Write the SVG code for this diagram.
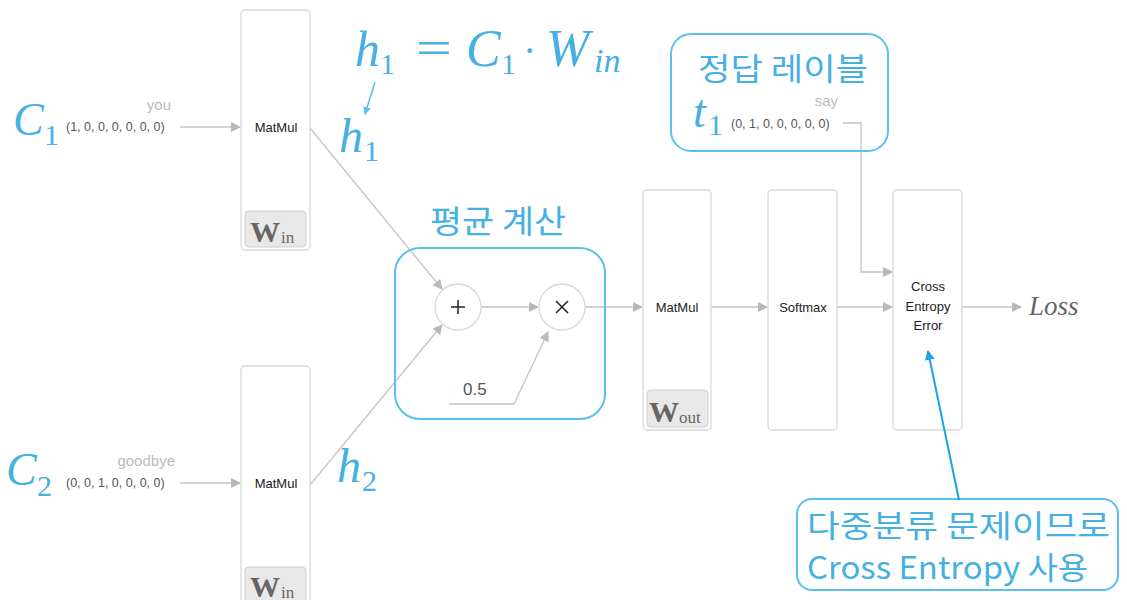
<svg xmlns="http://www.w3.org/2000/svg" width="1127" height="600" viewBox="0 0 1127 600">
<defs>
<style>
.box{fill:#fff;stroke:#d9d9d9;stroke-width:1.3}
.wbox{fill:#e8e8e8;stroke:#cfcfcf;stroke-width:1}
.lbl{font-family:"Liberation Sans",Arial,sans-serif;font-size:13px;fill:#222;text-anchor:middle}
.vec{font-family:"Liberation Sans",Arial,sans-serif;font-size:12.5px;fill:#555}
.word{font-family:"Liberation Sans",Arial,sans-serif;font-size:15px;fill:#bbb;text-anchor:end}
.math{font-family:"Liberation Serif","DejaVu Serif",serif;font-style:italic;fill:#45b0e2}
.sub{font-family:"Liberation Serif",serif;font-style:normal;fill:#45b0e2}
.kr{font-family:"Noto Sans CJK KR",sans-serif;fill:#45b0e2}
.w{font-family:"Liberation Serif",serif;font-weight:bold;fill:#666}
.wi{font-family:"Liberation Serif",serif;fill:#666}
.conn{fill:none;stroke:#c4c4c4;stroke-width:1.3}
.blue{fill:none;stroke:#5bc0ee;stroke-width:2}
</style>
<marker id="ah" markerWidth="10" markerHeight="10" refX="9" refY="5" orient="auto" markerUnits="userSpaceOnUse" viewBox="0 0 10 10">
<path d="M0,0 L10,5 L0,10 z" fill="#b8b8b8"/>
</marker>
<marker id="bh" markerWidth="10" markerHeight="12" refX="9" refY="5" orient="auto" markerUnits="userSpaceOnUse" viewBox="0 0 10 10">
<path d="M0,0 L10,5 L0,10 z" fill="#1aa3e6"/>
</marker>
<marker id="sh" markerWidth="8" markerHeight="8" refX="7" refY="4" orient="auto" markerUnits="userSpaceOnUse" viewBox="0 0 8 8">
<path d="M0,0 L8,4 L0,8 z" fill="#5bc0ee"/>
</marker>
</defs>

<g id="connectors">
<line class="conn" x1="180" y1="127" x2="240" y2="127" marker-end="url(#ah)"/>
<line class="conn" x1="180" y1="483" x2="240" y2="483" marker-end="url(#ah)"/>
<line class="conn" x1="310" y1="128" x2="442" y2="289" marker-end="url(#ah)"/>
<line class="conn" x1="310" y1="485" x2="442" y2="325" marker-end="url(#ah)"/>
<line class="conn" x1="481" y1="307" x2="538" y2="307" marker-end="url(#ah)"/>
<polyline class="conn" points="449,404 514,404 548,332" marker-end="url(#ah)"/>
<line class="conn" x1="585" y1="307" x2="642" y2="307" marker-end="url(#ah)"/>
<line class="conn" x1="711" y1="307" x2="767" y2="307" marker-end="url(#ah)"/>
<line class="conn" x1="837" y1="307" x2="892" y2="307" marker-end="url(#ah)"/>
<polyline class="conn" points="843,123 861,123 861,272 892,272" marker-end="url(#ah)"/>
<line class="conn" x1="962" y1="307" x2="1021" y2="307" marker-end="url(#ah)"/>
</g>

<g id="matmul1">
<rect class="box" x="241" y="10" width="69" height="240" rx="4"/>
<text class="lbl" x="276" y="132">MatMul</text>
<rect class="wbox" x="245" y="211" width="61" height="36" rx="4"/>
<text class="w" x="250" y="242" font-size="30">W</text><text class="wi" x="281" y="243" font-size="17">in</text>
</g>

<g id="matmul2">
<rect class="box" x="241" y="366" width="69" height="245" rx="4"/>
<text class="lbl" x="276" y="488">MatMul</text>
<rect class="wbox" x="245" y="567" width="61" height="40" rx="4"/>
<text class="w" x="250" y="597" font-size="30">W</text><text class="wi" x="281" y="598" font-size="17">in</text>
</g>

<g id="input1">
<text class="math" x="13" y="135" font-size="46">C</text><text class="sub" x="44" y="145" font-size="30">1</text>
<text class="word" x="171" y="110">you</text>
<text class="vec" x="66" y="131">(1, 0, 0, 0, 0, 0, 0)</text>
</g>

<g id="input2">
<text class="math" x="6" y="485" font-size="46">C</text><text class="sub" x="37" y="496" font-size="30">2</text>
<text class="word" x="175" y="466">goodbye</text>
<text class="vec" x="66" y="487">(0, 0, 1, 0, 0, 0, 0)</text>
</g>

<g id="formula">
<text class="math" x="355" y="66" font-size="50">h</text><text class="sub" x="380" y="74" font-size="30">1</text>
<text class="sub" x="416" y="64" font-size="48" textLength="36" lengthAdjust="spacingAndGlyphs">=</text>
<text class="math" x="466" y="66" font-size="52">C</text><text class="sub" x="501" y="74" font-size="30">1</text>
<text class="sub" x="523" y="64" font-size="40">·</text>
<text class="math" x="546" y="66" font-size="52">W</text><text class="math" x="594" y="72" font-size="34">in</text>
</g>

<g id="h1label">
<text class="math" x="339" y="152" font-size="48">h</text><text class="sub" x="364" y="161" font-size="30">1</text>
</g>
<g id="h2label">
<text class="math" x="337" y="482" font-size="48">h</text><text class="sub" x="362" y="491" font-size="30">2</text>
</g>

<g id="average">
<rect class="blue" x="395" y="248" width="210" height="171" rx="25"/>
<text class="kr" x="430" y="233" font-size="32" textLength="136" lengthAdjust="spacingAndGlyphs">평균 계산</text>
</g>

<g id="plus">
<circle cx="458" cy="307" r="23" fill="#fff" stroke="#d9d9d9" stroke-width="1.3"/>
<path d="M451,307 H465 M458,300 V314" stroke="#222" stroke-width="1.5"/>
</g>

<g id="times">
<circle cx="562" cy="307" r="23" fill="#fff" stroke="#d9d9d9" stroke-width="1.3"/>
<path d="M556,301 L568,313 M568,301 L556,313" stroke="#222" stroke-width="1.5"/>
</g>

<g id="half">
<text x="463" y="395" font-family="'Liberation Sans',Arial,sans-serif" font-size="17" fill="#555">0.5</text>
</g>

<g id="matmulout">
<rect class="box" x="643" y="190" width="68" height="240" rx="4"/>
<text class="lbl" x="677" y="312">MatMul</text>
<rect class="wbox" x="647" y="390" width="61" height="37" rx="4"/>
<text class="w" x="649" y="422" font-size="30">W</text><text class="wi" x="679" y="423" font-size="17">out</text>
</g>

<g id="softmax">
<rect class="box" x="768" y="190" width="69" height="240" rx="4"/>
<text class="lbl" x="803" y="312">Softmax</text>
</g>

<g id="crossentropy">
<rect class="box" x="893" y="190" width="69" height="240" rx="4"/>
<text class="lbl" x="928" y="291">Cross</text>
<text class="lbl" x="928" y="311">Entropy</text>
<text class="lbl" x="928" y="330">Error</text>
</g>

<g id="loss">
<text x="1029" y="315" font-family="'Liberation Serif',serif" font-style="italic" font-size="27" fill="#666">Loss</text>
</g>

<g id="label">
<rect class="blue" x="671" y="34" width="217" height="117" rx="20"/>
<text class="kr" x="698" y="80" font-size="31" textLength="170" lengthAdjust="spacingAndGlyphs">정답 레이블</text>
<text class="math" x="693" y="127" font-size="46">t</text><text class="sub" x="708" y="135" font-size="30">1</text>
<text class="word" x="838" y="106">say</text>
<text class="vec" x="731" y="128">(0, 1, 0, 0, 0, 0, 0)</text>
</g>

<g id="note">
<rect class="blue" x="797" y="499" width="321" height="91" rx="15"/>
<text class="kr" x="807" y="537" font-size="31" textLength="303" lengthAdjust="spacingAndGlyphs">다중분류 문제이므로</text>
<text class="kr" x="807" y="579" font-size="31" textLength="281" lengthAdjust="spacingAndGlyphs">Cross Entropy 사용</text>
</g>

<g id="annotations">
<line x1="375" y1="82" x2="365" y2="114" stroke="#5bc0ee" stroke-width="1.5" marker-end="url(#sh)"/>
<line x1="959" y1="500" x2="928" y2="351" stroke="#1aa3e6" stroke-width="2" marker-end="url(#bh)"/>
</g>
</svg>
